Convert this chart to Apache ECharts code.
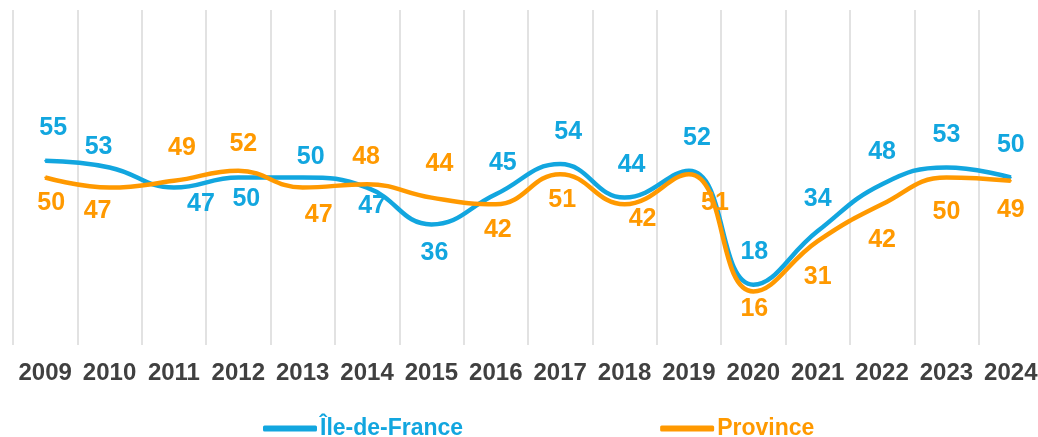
<!DOCTYPE html>
<html>
<head>
<meta charset="utf-8">
<script src="https://cdn.jsdelivr.net/npm/echarts@6/dist/echarts.min.js"></script>
<style>
  html, body { margin: 0; padding: 0; background: #fff; }
  #chart { width: 1038px; height: 437px; }
</style>
</head>
<body>
<div id="chart"></div>
<script>
  // données
  var years = ['2009', '2010', '2011', '2012', '2013', '2014', '2015', '2016',
               '2017', '2018', '2019', '2020', '2021', '2022', '2023', '2024'];
  var ileDeFrance = [55, 53, 47, 50, 50, 47, 36, 45, 54, 44, 52, 18, 34, 48, 53, 50];
  var province = [50, 47, 49, 52, 47, 48, 44, 42, 51, 42, 51, 16, 31, 42, 50, 49];

  // décalage des étiquettes (px), comme placées à la main dans l'original
  var ileOffsets = [[8, -33], [-11, -20], [27, 17], [8, 22], [8, -20], [5, 19], [3, 29], [7, -31],
                    [8, -32], [7, -32], [8, -33], [1, -33], [0, -32], [0, -32], [0, -32], [0, -32]];
  var provOffsets = [[6, 26], [-12, 24], [8, -33], [5, -27], [16, 28], [-1, -27], [8, -33], [2, 26],
                     [2, 26], [18, 15], [26, 29], [1, 18], [0, 36], [0, 36], [0, 35], [0, 29]];

  var blue = '#12A6DF';
  var orange = '#FF9900';
  var font = '"Liberation Sans", Arial, sans-serif';

  function withOffsets(values, offsets) {
    var result = [];
    for (var i = 0; i < values.length; i++) {
      result.push({ value: values[i], label: { offset: offsets[i] } });
    }
    return result;
  }

  function makeSeries(name, values, offsets, color) {
    return {
      name: name,
      type: 'line',
      smooth: 0.45,
      symbol: 'circle',
      symbolSize: 2,
      showSymbol: true,
      lineStyle: { color: color, width: 4.5 },
      itemStyle: { color: color },
      label: {
        show: true,
        position: 'inside',
        color: color,
        fontFamily: font,
        fontWeight: 'bold',
        fontSize: 25
      },
      data: withOffsets(values, offsets)
    };
  }

  var myChart = echarts.init(document.getElementById('chart'));
  myChart.setOption({
    animation: false,
    backgroundColor: '#fff',
    // la zone de tracé dépasse à droite, la dernière ligne verticale est hors cadre
    grid: { left: 13, width: 1030, top: 10, bottom: 92, outerBoundsMode: 'none', containLabel: false },
    legend: {
      left: 258,
      top: 412,
      icon: 'roundRect',
      itemWidth: 54,
      itemHeight: 6,
      itemGap: 197,
      textStyle: { fontFamily: font, fontWeight: 'bold', fontSize: 23, padding: [0, 0, 0, -2] },
      data: [
        { name: 'Île-de-France', textStyle: { color: blue } },
        { name: 'Province', textStyle: { color: orange } }
      ]
    },
    xAxis: {
      type: 'category',
      data: years,
      boundaryGap: true,
      axisLine: { show: false },
      axisTick: { show: false },
      axisLabel: {
        color: '#404040',
        fontFamily: font,
        fontWeight: 'bold',
        fontSize: 24,
        margin: 16,
        interval: 0
      },
      splitLine: { show: true, lineStyle: { color: '#e2e2e2', width: 2 } }
    },
    yAxis: {
      type: 'value',
      min: 0,
      max: 100,
      show: false,
      splitLine: { show: false }
    },
    series: [
      makeSeries('Île-de-France', ileDeFrance, ileOffsets, blue),
      makeSeries('Province', province, provOffsets, orange)
    ]
  });
</script>
</body>
</html>
